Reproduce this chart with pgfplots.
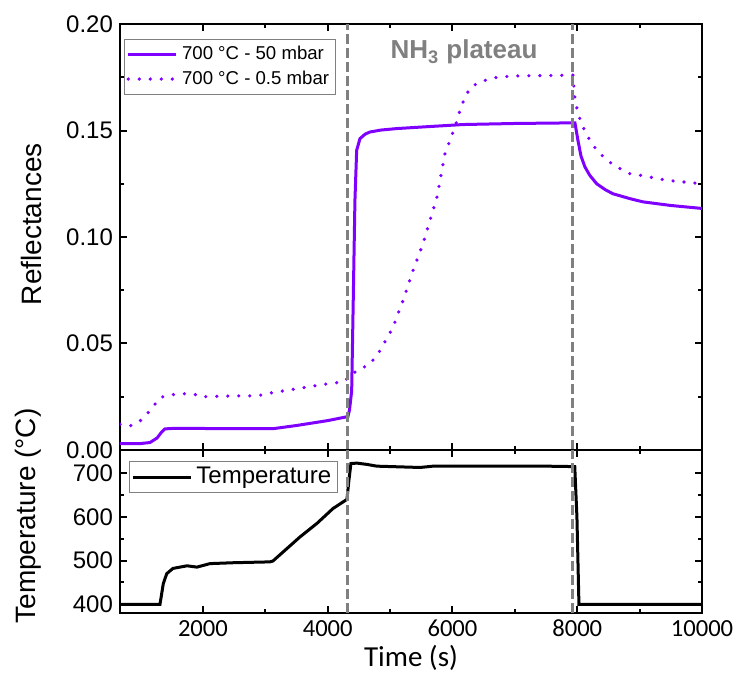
\documentclass[border=0pt]{standalone}
\usepackage{fontspec}
\setmainfont{Liberation Sans}
\newfontfamily\calib{Carlito}
\usepackage{pgfplots}
\pgfplotsset{compat=1.18}
\definecolor{vio}{RGB}{128,0,255}
\definecolor{dgray}{RGB}{128,128,128}
\begin{document}
\begin{tikzpicture}
\useasboundingbox (-60pt,-112.5pt) rectangle (308pt,225pt);
\pgfplotsset{
  every axis/.append style={
    scale only axis, width=291pt, xmin=670, xmax=10000,
    axis line style={line width=1.2pt},
    tick align=inside, major tick length=3.5pt, minor tick length=2pt,
    tick style={line width=1pt, black},
    xtick={2000,4000,6000,8000,10000}, minor x tick num=1,
    minor y tick num=1,
    scaled x ticks=false, scaled y ticks=false,
    xticklabel style={/pgf/number format/1000 sep={}},
    yticklabel style={font=\fontsize{12}{14}\selectfont},
    xticklabel style={font=\calib\fontsize{12.3}{14}\selectfont},
    /pgf/number format/assume math mode=true,
    ylabel style={font=\fontsize{14}{16}\selectfont, anchor=south, inner sep=0pt},
    legend cell align=left,
  }
}
\begin{axis}[name=top, at={(0,0)}, anchor=south west, height=213pt,
  ymin=0, ymax=0.2, ytick={0,0.05,0.1,0.15,0.2},
  yticklabel style={/pgf/number format/fixed, /pgf/number format/precision=2, /pgf/number format/fixed zerofill},
  xticklabels={},
  ylabel={Reflectances},
  ylabel style={at={(axis description cs:-0.134,0.53)}},
  legend image code/.code={\draw[#1] (0pt,0pt) -- (24pt,0pt);},
  legend style={at={(axis description cs:0.007,0.965)}, anchor=north west, draw=gray, font=\fontsize{9.3}{11}\selectfont, inner xsep=1pt, inner ysep=1.5pt, row sep=0pt},
]
\addplot[vio, line width=1.5pt] coordinates {
(670,0.0030) (990,0.0030) (1150,0.0035) (1263,0.0056) (1340,0.0085) (1391,0.0099) (1500,0.0101) (2000,0.0101) (2500,0.0100) (3122,0.0100) (3500,0.0115) (4000,0.0138) (4324,0.0157) (4350,0.019) (4384,0.0278) (4409,0.070) (4436,0.117) (4464,0.1407) (4517,0.1462) (4600,0.1483) (4677,0.1493) (4850,0.1502) (5105,0.1509) (5600,0.1518) (6168,0.1528) (7000,0.1533) (7963,0.1536) (8011,0.1454) (8060,0.138) (8123,0.1329) (8200,0.1290) (8311,0.1250) (8450,0.1222) (8572,0.1203) (8845,0.1180) (9053,0.1165) (9500,0.1148) (10000,0.1134)
};
\addlegendentry{700 °C - 50 mbar}
\addplot[vio, line width=1.8pt, line cap=round, dash pattern=on 0pt off 5.5pt] coordinates {
(670,0.0121) (830,0.0113) (990,0.0136) (1150,0.0184) (1311,0.0246) (1471,0.0259) (1744,0.0265) (1904,0.0259) (1952,0.0250) (2481,0.0254) (2866,0.0254) (3122,0.0270) (3555,0.0290) (4084,0.0315) (4244,0.0318) (4350,0.0345) (4464,0.0372) (4677,0.0403) (4837,0.0466) (5046,0.0576) (5206,0.0701) (5366,0.0842) (5527,0.0968) (5671,0.1109) (5751,0.1187) (5879,0.1390) (5959,0.1454) (6040,0.1517) (6147,0.1620) (6280,0.1700) (6440,0.1729) (6713,0.1750) (7000,0.1756) (7500,0.1758) (7930,0.1760) (7963,0.1650) (8011,0.1580) (8091,0.1517) (8200,0.1455) (8315,0.1407) (8476,0.1360) (8636,0.1329) (8845,0.1297) (9005,0.1290) (9438,0.1266) (10000,0.1250)
};
\addlegendentry{700 °C - 0.5 mbar}
\addplot[dgray, line width=1.5pt, dash pattern=on 5pt off 2pt, forget plot] coordinates {(4325,0) (4325,0.2)};
\addplot[dgray, line width=1.5pt, dash pattern=on 5pt off 2pt, forget plot] coordinates {(7931,0) (7931,0.2)};
\node[font=\bfseries\fontsize{13}{15}\selectfont, text=dgray] at (axis cs:6184,0.1868) {NH\textsubscript{3} plateau};
\end{axis}
\begin{axis}[at={(0,0)}, anchor=north west, height=81.5pt,
  ymin=380, ymax=753, ytick={400,500,600,700},
  xlabel={Time (s)},
  xlabel style={font=\calib\fontsize{14.5}{16}\selectfont, at={(axis description cs:0.5,0)}, anchor=north, yshift=-16pt, inner sep=0pt},
  ylabel={Temperature (°C)},
  ylabel style={at={(axis description cs:-0.134,0.595)}},
  legend image code/.code={\draw[#1] (0pt,0pt) -- (29pt,0pt);},
  legend style={at={(axis description cs:0.0155,0.933)}, anchor=north west, draw=gray, font=\fontsize{12}{14}\selectfont, inner xsep=1pt, inner ysep=1pt},
]
\addplot[black, line width=1.5pt] coordinates {
(670,400) (1311,400) (1364,447) (1419,470) (1519,482) (1744,488) (1904,485) (2112,493) (2481,495) (3074,497) (3122,499) (3555,554) (3827,585) (4084,619) (4308,640) (4340,684) (4372,722) (4468,723) (4629,720) (4789,716) (5479,713) (5687,716) (6761,716) (7500,716) (7960,715) (7995,600) (8027,400) (10000,400)
};
\addlegendentry{Temperature}
\addplot[dgray, line width=1.5pt, dash pattern=on 5pt off 2pt, forget plot] coordinates {(4325,380) (4325,753)};
\addplot[dgray, line width=1.5pt, dash pattern=on 5pt off 2pt, forget plot] coordinates {(7931,380) (7931,753)};
\end{axis}
\end{tikzpicture}
\end{document}
